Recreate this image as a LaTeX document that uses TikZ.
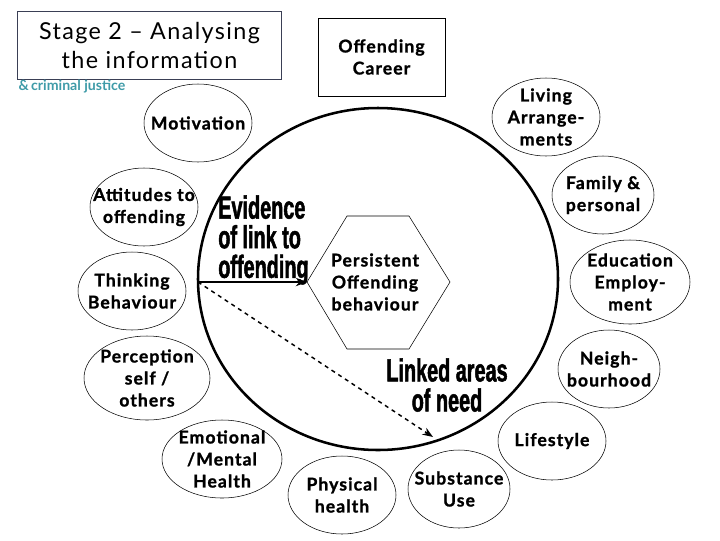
\documentclass[tikz,border=0pt]{standalone}
\usepackage{fontspec}
\usepackage{tikz}
\usetikzlibrary{arrows.meta,positioning,shapes.geometric}
\setmainfont{Lato}
\newfontfamily\comicfont[LetterSpace=6]{Lato}
\newfontfamily\comicbold[LetterSpace=6,FakeBold=1.2]{Lato Bold}
\newfontfamily\impactfont[FakeStretch=0.62,FakeBold=1.5]{Liberation Sans Bold}
\definecolor{boxedge}{HTML}{3A3F55}
\definecolor{orgteal}{HTML}{3F9BA8}

\begin{document}
\begin{tikzpicture}[
    x=0.75pt, y=-0.75pt,
    area/.style 2 args={ellipse, draw=black, line width=0.4pt, inner sep=0pt, minimum width=#1*0.75pt, minimum height=#2*0.75pt},
    areatext/.style={align=center, inner sep=0pt, font=\comicbold\fontsize{13.2}{16.5}\selectfont},
    headline/.style={inner sep=0pt}
]
\useasboundingbox (0, 0) rectangle (720, 540);

\node[draw=boxedge, line width=0.6pt, minimum width=197.5pt, minimum height=50.5pt, inner sep=0pt] (stagebox) at (149.5, 45.5) {};
\node[align=center, inner sep=0pt, font=\comicfont\fontsize{17.5}{21.5}\selectfont] (stage) at (stagebox) {Stage 2 – Analysing\\the information};
\node[orgteal, inner sep=0pt, font=\bfseries\fontsize{10.6}{12}\selectfont] (org) at (72, 87) {\&\,criminal justice};

\node[draw=black, line width=0.4pt, minimum width=95pt, minimum height=58.5pt, inner sep=0pt] (careerbox) at (381.5, 57) {};
\node[areatext] (career) at (careerbox) {Offending\\Career};

\node[ellipse, draw=black, line width=1.9pt, minimum width=270pt, minimum height=256.5pt, inner sep=0pt] (needs) at (378, 279) {};

\node[area={108}{78}] (motiv) at (198, 123) {};
\node[area={108}{78}] (attit) at (144, 207) {};
\node[area={108}{78}] (think) at (132, 291) {};
\node[area={126}{84}] (percep) at (147, 378) {};
\node[area={120}{78}] (emot) at (222, 459) {};
\node[area={108}{78}] (phys) at (342, 495) {};
\node[area={102}{78}] (subst) at (459, 489) {};
\node[area={108}{78}] (life) at (552, 441) {};
\node[area={102}{78}] (neigh) at (609, 369) {};
\node[area={120}{84}] (educ) at (630, 282) {};
\node[area={102}{78}] (family) at (603, 195) {};
\node[area={108}{78}] (living) at (546, 117) {};

\node[areatext] (motivtext) at (motiv) {Motivation};
\node[areatext] (attittext) at (attit) {Attitudes to\\offending};
\node[areatext] (thinktext) at (think) {Thinking\\Behaviour};
\node[areatext] (perceptext) at (percep) {Perception\\self /\\others};
\node[areatext] (emottext) at (emot) {Emotional\\/Mental\\Health};
\node[areatext] (physicaltext) at (phys) {Physical\\health};
\node[areatext] (substtext) at (subst) {Substance\\Use};
\node[areatext] (lifetext) at (life) {Lifestyle};
\node[areatext] (neightext) at (neigh) {Neigh-\\bourhood};
\node[areatext] (eductext) at (educ) {Education\\Employ-\\ment};
\node[areatext] (familytext) at (family) {Family \&\\personal};
\node[areatext] (livingtext) at (living) {Living\\Arrange-\\ments};

\coordinate (hextl) at (347, 216);
\coordinate (hextr) at (409, 216);
\coordinate (hexr) at (450, 282);
\coordinate (hexbr) at (409, 349);
\coordinate (hexbl) at (347, 349);
\coordinate (hexl) at (307, 282);
\draw[line width=0.4pt] (hextl) -- (hextr) -- (hexr) -- (hexbr) -- (hexbl) -- (hexl) -- cycle;
\node[areatext] (persist) at (375, 282) {Persistent\\Offending\\behaviour};

\node[headline, align=left, anchor=west, font=\impactfont\fontsize{24}{22.2}\selectfont] (evidence) at (218, 240) {Evidence\\of link to\\offending};
\node[headline, align=center, font=\impactfont\fontsize{24}{22.5}\selectfont] (linked) at (447, 385) {Linked areas\\of need};

\coordinate (start) at (198, 282);
\coordinate (need) at (433, 437);
\draw[-Stealth, line width=1.2pt] (start) -- (hexl);
\draw[-Stealth, line width=1.1pt, dashed] (start) -- (need);
\end{tikzpicture}
\end{document}
